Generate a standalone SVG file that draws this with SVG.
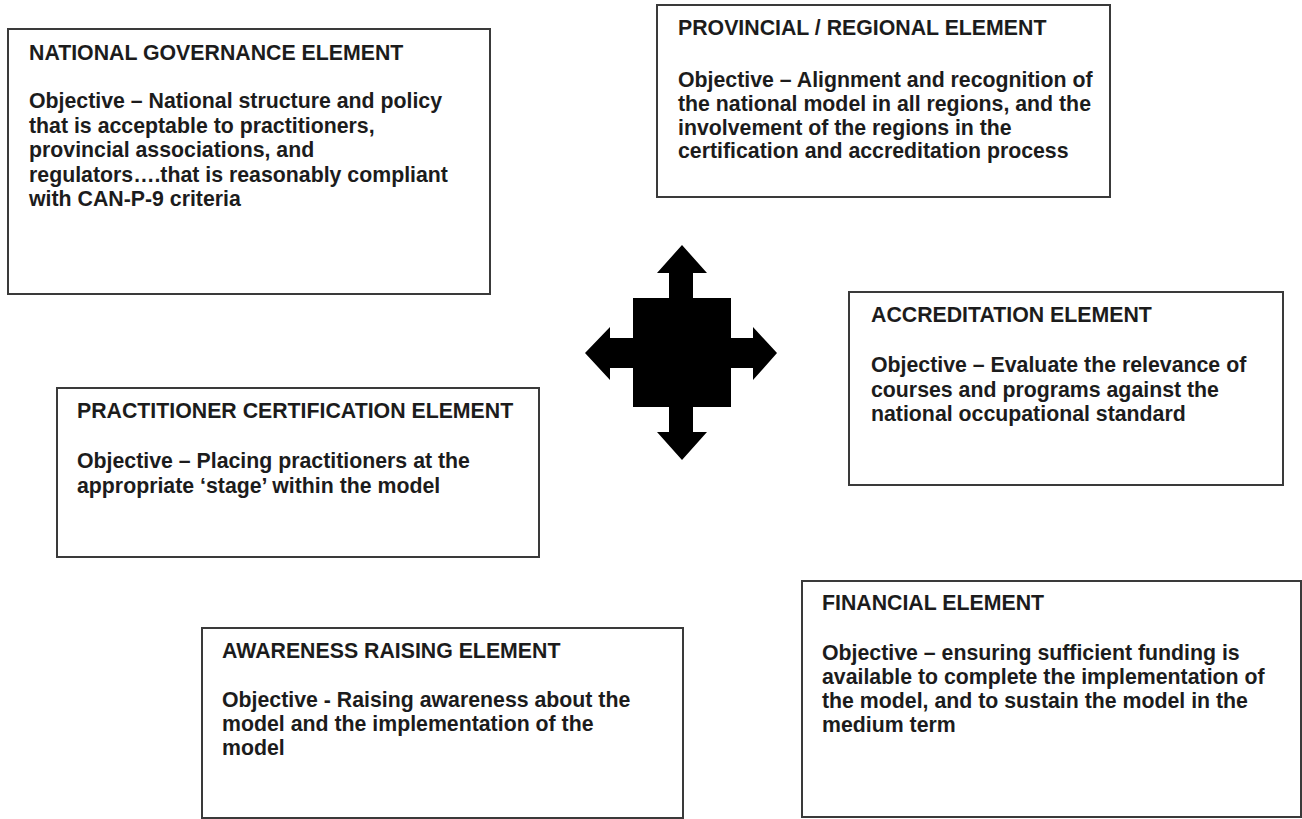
<svg xmlns="http://www.w3.org/2000/svg" width="1302" height="819" viewBox="0 0 1302 819">
<style>
.box{fill:#ffffff;stroke:#3a3a3a;stroke-width:2}
text{font-family:"Liberation Sans",Arial,sans-serif;font-weight:bold;font-size:21.3px;fill:#1c1c1c}
</style>
<rect x="0" y="0" width="1302" height="819" fill="#ffffff"/>
<g id="national-governance">
<rect class="box" x="8" y="29" width="482" height="265"/>
<text x="29" y="60">NATIONAL GOVERNANCE ELEMENT</text>
<text x="29" y="108">Objective – National structure and policy</text>
<text x="29" y="133">that is acceptable to practitioners,</text>
<text x="29" y="157">provincial associations, and</text>
<text x="29" y="182">regulators….that is reasonably compliant</text>
<text x="29" y="206">with CAN-P-9 criteria</text>
</g>
<g id="provincial-regional">
<rect class="box" x="657" y="5" width="453" height="192"/>
<text x="678" y="35">PROVINCIAL / REGIONAL ELEMENT</text>
<text x="678" y="87">Objective – Alignment and recognition of</text>
<text x="678" y="111">the national model in all regions, and the</text>
<text x="678" y="135">involvement of the regions in the</text>
<text x="678" y="158">certification and accreditation process</text>
</g>
<g id="accreditation">
<rect class="box" x="849" y="292" width="434" height="193"/>
<text x="871" y="322">ACCREDITATION ELEMENT</text>
<text x="871" y="372">Objective – Evaluate the relevance of</text>
<text x="871" y="397">courses and programs against the</text>
<text x="871" y="421">national occupational standard</text>
</g>
<g id="practitioner-certification">
<rect class="box" x="57" y="388" width="482" height="169"/>
<text x="77" y="418">PRACTITIONER CERTIFICATION ELEMENT</text>
<text x="77" y="468">Objective – Placing practitioners at the</text>
<text x="77" y="493">appropriate ‘stage’ within the model</text>
</g>
<g id="awareness-raising">
<rect class="box" x="202" y="628" width="481" height="190"/>
<text x="222" y="658">AWARENESS RAISING ELEMENT</text>
<text x="222" y="707">Objective - Raising awareness about the</text>
<text x="222" y="731">model and the implementation of the</text>
<text x="222" y="755">model</text>
</g>
<g id="financial">
<rect class="box" x="802" y="581" width="499" height="236"/>
<text x="822" y="610">FINANCIAL ELEMENT</text>
<text x="822" y="660">Objective – ensuring sufficient funding is</text>
<text x="822" y="684">available to complete the implementation of</text>
<text x="822" y="708">the model, and to sustain the model in the</text>
<text x="822" y="732">medium term</text>
</g>
<g id="connectors">
<polygon fill="#000000" points="682,245 707,273 693,273 693,298 731,298 731,338 753,338 753,327 777,353 753,380 753,368 731,368 731,407 693,407 693,432 707,432 682,460 657,432 669,432 669,407 633,407 633,368 610,368 610,380 585,353 610,327 610,338 633,338 633,298 669,298 669,273 657,273"/>
</g>
</svg>
